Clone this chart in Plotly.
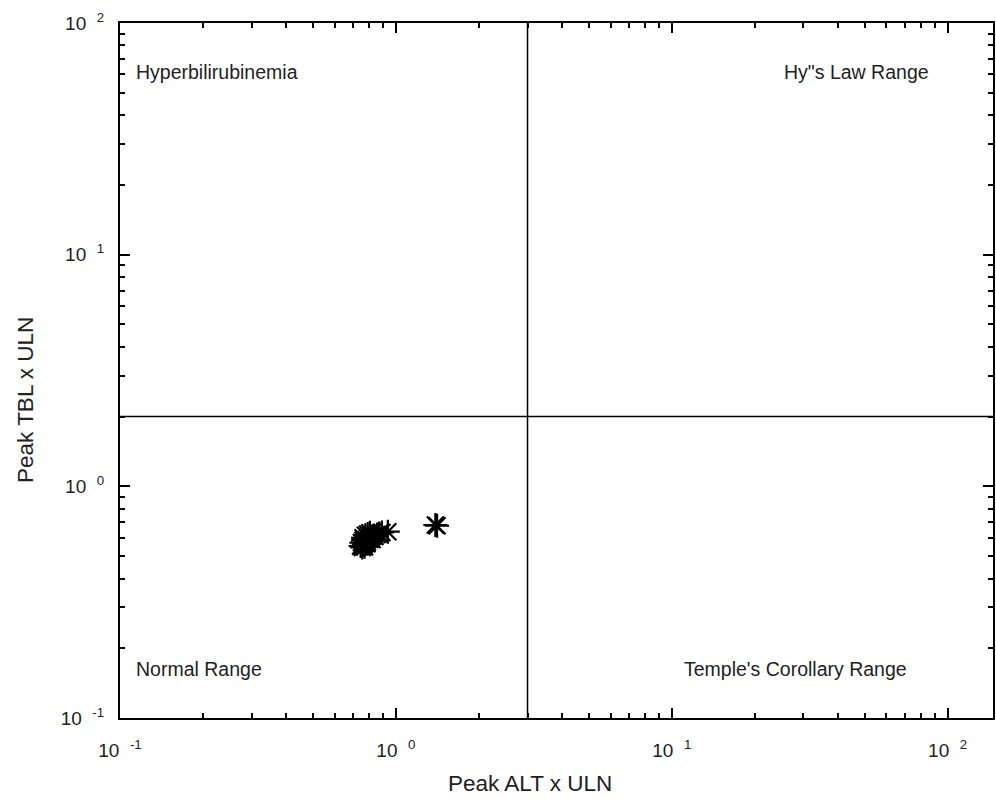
import plotly.graph_objects as go
import numpy as np

# Data
alt_x_uln = [0.745, 0.750, 0.755, 0.760, 0.765, 0.772, 0.780, 0.788, 0.795, 0.805, 0.815, 0.828, 0.840,
             0.855, 0.870, 0.890, 0.935, 0.760, 0.775, 0.790, 0.805, 0.770, 0.785, 0.820, 1.39, 1.41]
tbl_x_uln = [0.552, 0.572, 0.545, 0.585, 0.560, 0.566, 0.590, 0.575, 0.600, 0.589, 0.605, 0.612, 0.608,
             0.620, 0.625, 0.632, 0.637, 0.600, 0.615, 0.622, 0.630, 0.548, 0.565, 0.590, 0.681, 0.676]

alt_threshold = 3
tbl_threshold = 2
x_min, x_max = 0.1, 146
y_min, y_max = 0.1, 100

major_x = [0.1, 1, 10, 100]
major_x_text = ["10&nbsp;&nbsp;<sup>-1</sup>", "10&nbsp;&nbsp;<sup>0</sup>", "10&nbsp;&nbsp;<sup>1</sup>", "10&nbsp;&nbsp;<sup>2</sup>"]
major_y = [0.1, 1, 10, 100]
major_y_text = ["10&nbsp;&nbsp;<sup>-1</sup>", "10&nbsp;&nbsp;<sup>0</sup>", "10&nbsp;&nbsp;<sup>1</sup>", "10&nbsp;&nbsp;<sup>2</sup>"]

region_labels = ["Hyperbilirubinemia", "Hy\"s Law Range", "Normal Range", "Temple's Corollary Range"]

minor_x = [m * 10.0 ** d for d in range(-1, 3) for m in range(2, 10) if m * 10.0 ** d < x_max]
minor_y = [m * 10.0 ** d for d in range(-1, 2) for m in range(2, 10)]

FONT = "Liberation Sans, Arial, sans-serif"
TXT = "#222"

W, H = 996, 799
L, R, T, B = 120, 3, 23, 81
pw, ph = W - L - R, H - T - B


def px(xp):
    return (xp - L) / pw


def py(yp):
    return 1 - (yp - T) / ph


fig = go.Figure()
fig.add_trace(go.Scatter(
    x=alt_x_uln, y=tbl_x_uln, mode="markers",
    marker=dict(symbol="asterisk-open", size=20, color="black",
                line=dict(color="black", width=2.2)),
    showlegend=False,
))

# quadrant lines
fig.add_shape(type="line", xref="x", yref="paper", x0=alt_threshold, x1=alt_threshold, y0=0, y1=1,
              line=dict(color="black", width=1.5))
fig.add_shape(type="line", xref="paper", yref="y", x0=0, x1=1, y0=tbl_threshold, y1=tbl_threshold,
              line=dict(color="black", width=1.5))

lab_font = dict(size=19.5, color=TXT)
fig.add_annotation(x=px(134), y=py(72), xref="paper", yref="paper", text=region_labels[0],
                   showarrow=False, xanchor="left", yanchor="middle", font=lab_font)
fig.add_annotation(x=px(856), y=py(72), xref="paper", yref="paper", text=region_labels[1],
                   showarrow=False, xanchor="center", yanchor="middle", font=lab_font)
fig.add_annotation(x=px(134), y=py(669), xref="paper", yref="paper", text=region_labels[2],
                   showarrow=False, xanchor="left", yanchor="middle", font=lab_font)
fig.add_annotation(x=px(795), y=py(669), xref="paper", yref="paper", text=region_labels[3],
                   showarrow=False, xanchor="center", yanchor="middle", font=lab_font)

# axis titles
fig.add_annotation(x=px(530), y=py(783), xref="paper", yref="paper", text="Peak ALT x ULN", showarrow=False,
                   xanchor="center", yanchor="middle", font=dict(size=22.5, color=TXT))
fig.add_annotation(x=px(25), y=py(400), xref="paper", yref="paper", text="Peak TBL x ULN", showarrow=False,
                   xanchor="center", yanchor="middle", textangle=-90, font=dict(size=22.5, color=TXT))

axis_common = dict(
    type="log", tickmode="array",
    ticks="inside", ticklen=10, tickwidth=1.5, tickcolor="black",
    showline=True, linecolor="black", linewidth=2, mirror="allticks",
    showgrid=False, zeroline=False, automargin=False,
    tickfont=dict(size=19, color=TXT),
)

fig.update_layout(
    width=W, height=H,
    margin=dict(l=L, r=R, t=T, b=B),
    paper_bgcolor="white", plot_bgcolor="white",
    font=dict(family=FONT, size=16, color=TXT),
    xaxis=dict(range=[np.log10(x_min), np.log10(x_max)], tickvals=major_x, ticktext=major_x_text,
               ticklabelstandoff=14,
               minor=dict(tickmode="array", tickvals=minor_x, ticks="inside", ticklen=5,
                          tickwidth=1.5, tickcolor="black", showgrid=False),
               **axis_common),
    yaxis=dict(range=[np.log10(y_min), np.log10(y_max)], tickvals=major_y, ticktext=major_y_text,
               ticklabelstandoff=10,
               minor=dict(tickmode="array", tickvals=minor_y, ticks="inside", ticklen=5,
                          tickwidth=1.5, tickcolor="black", showgrid=False),
               **axis_common),
)

fig.write_html(
    "out.html",
    config={"displayModeBar": False},
    post_script="document.body.style.margin='0';document.body.style.padding='0';"
                "document.body.style.overflow='hidden';",
)
